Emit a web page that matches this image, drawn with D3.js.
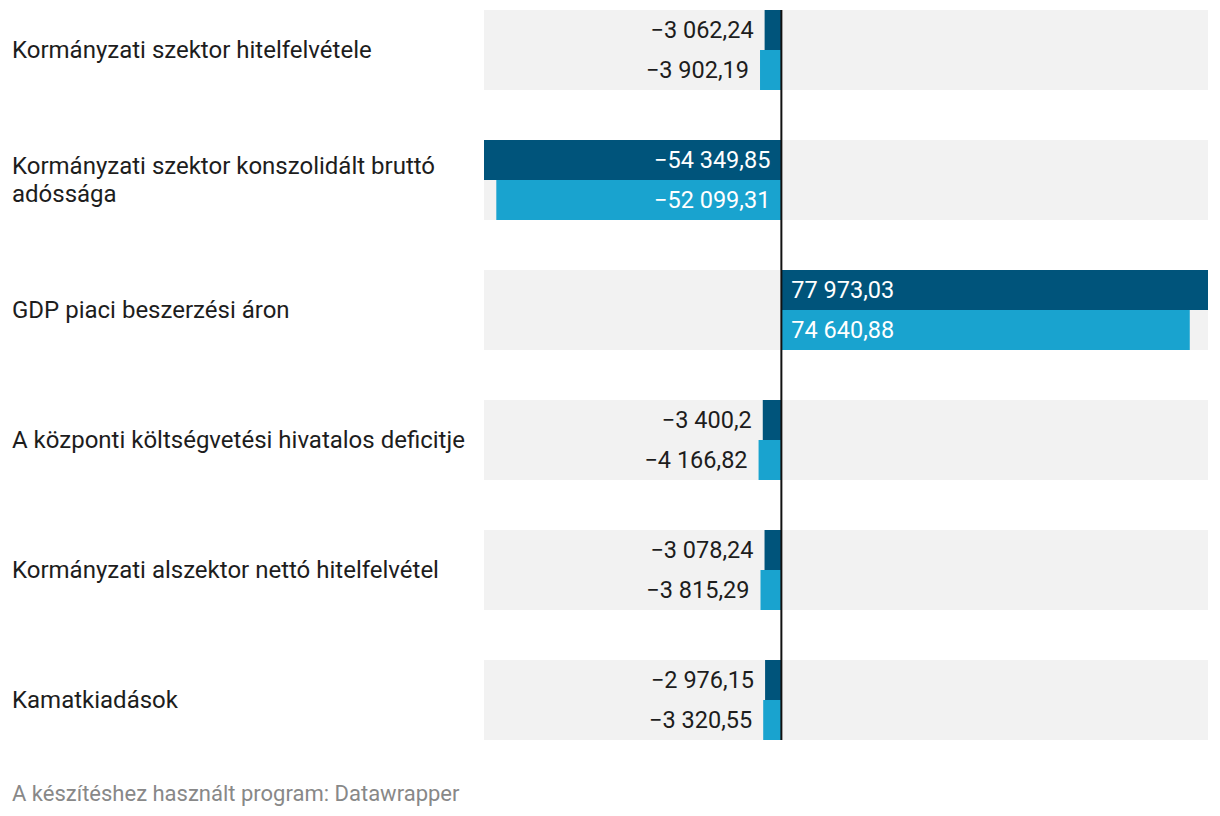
<!DOCTYPE html>
<html>
<head>
<meta charset="utf-8">
<script src="https://cdn.jsdelivr.net/npm/d3@7"></script>
<style>
  html, body { margin: 0; padding: 0; background: #fff; }
  svg { display: block; font-family: Roboto, "Noto Sans", sans-serif; }
</style>
</head>
<body>
<svg id="chart" width="1220" height="816"></svg>
<script>
const categories = [
  "Kormányzati szektor hitelfelvétele",
  "Kormányzati szektor konszolidált bruttó adóssága",
  "GDP piaci beszerzési áron",
  "A központi költségvetési hivatalos deficitje",
  "Kormányzati alszektor nettó hitelfelvétel",
  "Kamatkiadások"
];
const seriesNames = ["Sorozat 1", "Sorozat 2"];
const series1 = [-3062.24, -54349.85, 77973.03, -3400.2, -3078.24, -2976.15];
const series2 = [-3902.19, -52099.31, 74640.88, -4166.82, -3815.29, -3320.55];
const seriesColors = ["#00547b", "#19a3cf"];
const footerText = "A készítéshez használt program: Datawrapper";

const svg = d3.select("#chart");
const locale = d3.formatLocale({ decimal: ",", thousands: "\u00a0", grouping: [3], currency: ["", " Ft"], minus: "\u2212" });
const fmt = locale.format(",.2~f");

const allVals = series1.concat(series2);
const x = d3.scaleLinear()
  .domain([d3.min(allVals), d3.max(allVals)])
  .range([484, 1208]);

const y = d3.scaleBand()
  .domain(categories)
  .range([10, 740])
  .paddingInner(50 / 130)
  .paddingOuter(0);

const yInner = d3.scaleBand()
  .domain([0, 1])
  .range([0, y.bandwidth()]);

const rows = categories.map((c, i) => ({ cat: c, vals: [series1[i], series2[i]] }));

// background bands
svg.append("g").selectAll("rect")
  .data(rows).join("rect")
  .attr("x", x.range()[0])
  .attr("width", x.range()[1] - x.range()[0])
  .attr("y", d => y(d.cat))
  .attr("height", y.bandwidth())
  .attr("fill", "#f2f2f2");

const x0 = x(0);

// bars
const groups = svg.append("g").selectAll("g")
  .data(rows).join("g")
  .attr("transform", d => `translate(0,${y(d.cat)})`);

groups.selectAll("rect")
  .data(d => d.vals.map((v, j) => ({ v, j })))
  .join("rect")
  .attr("x", d => Math.min(x(d.v), x0))
  .attr("width", d => Math.abs(x(d.v) - x0))
  .attr("y", d => yInner(d.j))
  .attr("height", yInner.bandwidth())
  .attr("fill", d => seriesColors[d.j]);

// value labels
const labels = groups.selectAll("text")
  .data(d => d.vals.map((v, j) => ({ v, j })))
  .join("text")
  .attr("y", d => yInner(d.j) + yInner.bandwidth() / 2)
  .attr("dy", "0.35em")
  .style("font-size", "23.5px")
  .text(d => fmt(d.v));

labels.each(function (d) {
  const t = d3.select(this);
  const w = this.getComputedTextLength();
  const barW = Math.abs(x(d.v) - x0);
  const inside = barW > w + 20;
  const neg = d.v < 0;
  let px, anchor, fill;
  if (inside) {
    fill = "#ffffff";
    if (neg) { px = x0 - 11; anchor = "end"; }
    else { px = x0 + 10; anchor = "start"; }
  } else {
    fill = "#1d1d1d";
    if (neg) { px = x(d.v) - 11; anchor = "end"; }
    else { px = x(d.v) + 11; anchor = "start"; }
  }
  t.attr("x", px).attr("text-anchor", anchor).attr("fill", fill);
});

// zero line
svg.append("line")
  .attr("x1", x0).attr("x2", x0)
  .attr("y1", y.range()[0]).attr("y2", y.range()[1])
  .attr("stroke", "#111")
  .attr("stroke-width", 2);

// category labels with wrapping
const maxW = 462;
const catG = svg.append("g");
rows.forEach(d => {
  const t = catG.append("text")
    .attr("x", 12)
    .style("font-size", "24px")
    .attr("fill", "#1d1d1d");
  const words = d.cat.split(" ");
  const lines = [];
  let line = [];
  const tmp = t.append("tspan");
  words.forEach(w => {
    line.push(w);
    tmp.text(line.join(" "));
    if (tmp.node().getComputedTextLength() > maxW && line.length > 1) {
      line.pop();
      lines.push(line.join(" "));
      line = [w];
    }
  });
  lines.push(line.join(" "));
  tmp.remove();
  const lh = 28;
  const cy = y(d.cat) + y.bandwidth() / 2;
  const startY = cy - (lines.length - 1) * lh / 2;
  lines.forEach((l, i) => {
    t.append("tspan")
      .attr("x", 12)
      .attr("y", startY + i * lh)
      .attr("dy", "0.35em")
      .text(l);
  });
});

// footer
svg.append("text")
  .attr("x", 12)
  .attr("y", 793)
  .attr("dy", "0.35em")
  .style("font-size", "22px")
  .attr("fill", "#888888")
  .text(footerText);
</script>
</body>
</html>
